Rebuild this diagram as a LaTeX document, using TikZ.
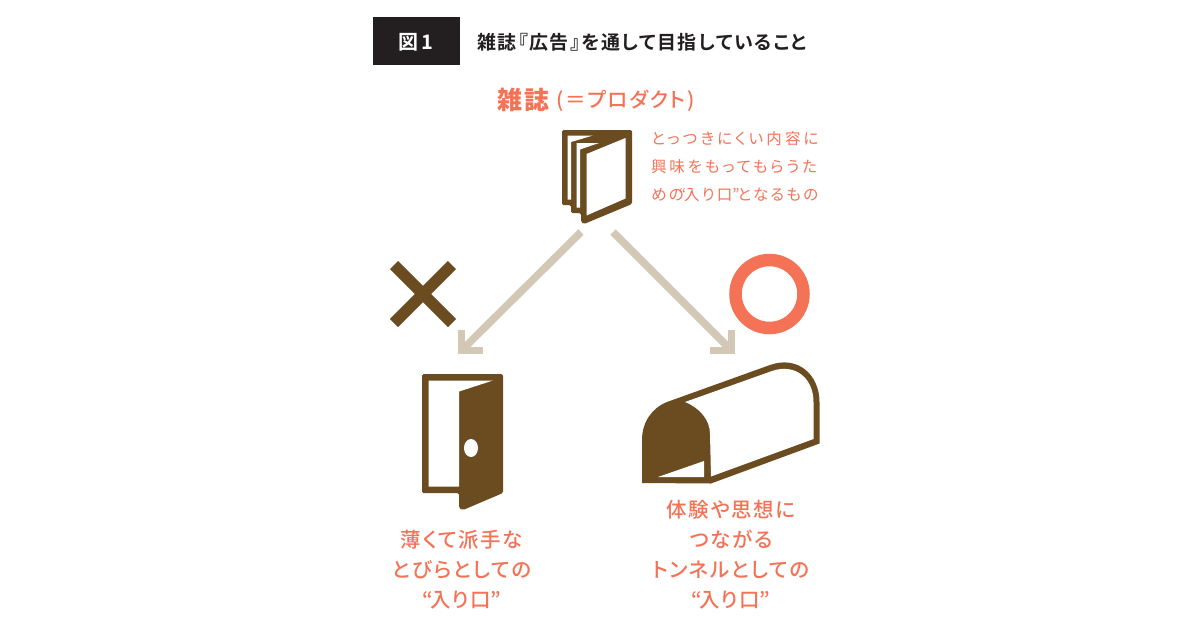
\documentclass[tikz,border=0pt]{standalone}
\usepackage{fontspec}
\setmainfont{Noto Sans CJK JP}[BoldFont={* Bold},RawFeature={+palt}]
\newfontfamily\jpT{Noto Sans CJK JP}[BoldFont={* Bold},RawFeature={+palt},LetterSpace=8]
\newfontfamily\jpA{Noto Sans CJK JP Medium}[RawFeature={+palt},LetterSpace=8]
\newfontfamily\jpB{Noto Sans CJK JP}[RawFeature={+palt},LetterSpace=20]
\newfontfamily\jpD{Noto Sans CJK JP}[RawFeature={+palt},LetterSpace=18]
\newfontfamily\jpE{Noto Sans CJK JP}[RawFeature={+palt},LetterSpace=14]
\newfontfamily\jpC{Noto Sans CJK JP Medium}[RawFeature={+palt},LetterSpace=8]
\definecolor{brownc}{HTML}{6B4C20}
\definecolor{coral}{HTML}{F47356}
\definecolor{tanc}{HTML}{D3C8B5}
\definecolor{blackc}{HTML}{231F20}
\tikzset{
  arrowline/.style={draw=tanc,line width=7.5pt},
  coraltext/.style={text=coral,inner sep=0pt,align=center,font=\jpA\fontsize{20.5}{30}\selectfont},
  notetext/.style={text=coral,inner sep=0pt,anchor=west,font=\fontsize{15.5}{20}\selectfont},
  iconfill/.style={fill=brownc,draw=none},
  hole/.style={fill=white,draw=none}
}
\newcommand{\qlabel}{\kern-1pt“\kern-3pt 入り口\kern-0.5pt”\kern-1pt}
\begin{document}
\begin{tikzpicture}[x=1pt,y=-1pt]
\useasboundingbox (0,0) rectangle (1200,630);
\fill[white] (0,0) rectangle (1200,630);
% header
\node[fill=blackc,minimum width=87pt,minimum height=48pt,inner sep=0pt] (hd) at (416.5,41) {};
\node[text=white,inner sep=0pt,font=\bfseries\fontsize{20}{24}\selectfont] (hdt) at (416,42) {図\,1};
\node[text=blackc,inner sep=0pt,anchor=west,font=\jpT\bfseries\fontsize{19}{22}\selectfont] (title) at (477,42) {雑誌『広告』を通して目指していること};
% heading
\node[text=coral,inner sep=0pt,anchor=west,font=\jpC\bfseries\fontsize{25}{30}\selectfont] (mag) at (497,100) {雑誌};
\node[text=coral,inner sep=0pt,anchor=west,font=\jpC\fontsize{20.5}{24}\selectfont] (prod) at (556,101) {(＝プロダクト)};
% note
\node[notetext] (n1) at (651,139) {\jpB とっつきにくい内容に};
\node[notetext] (n2) at (651,167) {\jpD 興味をもってもらうた};
\node[notetext] (n3) at (651,195) {\jpE めの\kern-5pt“\kern-2pt 入り口\kern0pt”\kern-2pt となるもの};
% book
\fill[iconfill,rounded corners=1.5pt] (562,130) -- (632,130) -- (632,204) -- (584,224) -- (581,222) -- (581,213) -- (571,213) -- (571,205) -- (562,205) -- cycle;
\fill[hole] (567.5,135.5) -- (593,135.5) -- (571,142) -- (571,199.5) -- (567.5,199.5) -- cycle;
\fill[hole] (576.5,143) -- (599,143) -- (580,149.5) -- (580,207.5) -- (576.5,207.5) -- cycle;
\fill[hole] (586.5,154) -- (625.5,138) -- (625.5,198.5) -- (586.5,215.5) -- cycle;
% connectors
\coordinate (bl) at (581,232);
\coordinate (br) at (613,232);
\coordinate (dt) at (461,351);
\coordinate (tt) at (732,351);
\draw[arrowline] (bl) -- (dt);
\draw[arrowline] (br) -- (tt);
\draw[arrowline,line join=miter] (461.5,330) -- (461.5,350.5) -- (483,350.5);
\draw[arrowline,line join=miter] (731.5,330) -- (731.5,350.5) -- (710,350.5);
% cross and circle
\draw[brownc,line width=11.5pt] (394,265) -- (452,323);
\draw[brownc,line width=11.5pt] (452,265) -- (394,323);
\draw[coral,line width=12.5pt] (769.5,294) circle (34);
% door
\fill[iconfill,rounded corners=1.5pt] (422,374) -- (503,374) -- (503,493) -- (463,510) -- (459,508) -- (459,493) -- (422,493) -- cycle;
\fill[hole] (428.5,380.5) -- (493,380.5) -- (459,391.5) -- (459,486.5) -- (428.5,486.5) -- cycle;
\fill[hole] (471,448) ellipse (7 and 9);
% tunnel
\fill[iconfill] (642,483) -- (642,440) .. controls (642,422) and (652,408) .. (667,402) -- (770,365) .. controls (798,355) and (819.5,375) .. (819.5,402) -- (819.5,443.5) -- (711,483.5) -- cycle;
\fill[hole] (685,402) -- (772,371) .. controls (795,363) and (813.5,378) .. (813.5,402) -- (813.5,439) -- (711,476.5) -- (710,434) .. controls (710,420) and (700,408) .. (685,402) -- cycle;
\fill[hole] (658,477) -- (704,461) -- (704,477) -- cycle;
% labels
\node[coraltext] (l1) at (462,570) {薄くて派手な\\とびらとしての\\\qlabel};
\node[coraltext] (l2) at (731,555) {体験や思想に\\つながる\\トンネルとしての\\\qlabel};
\end{tikzpicture}
\end{document}
